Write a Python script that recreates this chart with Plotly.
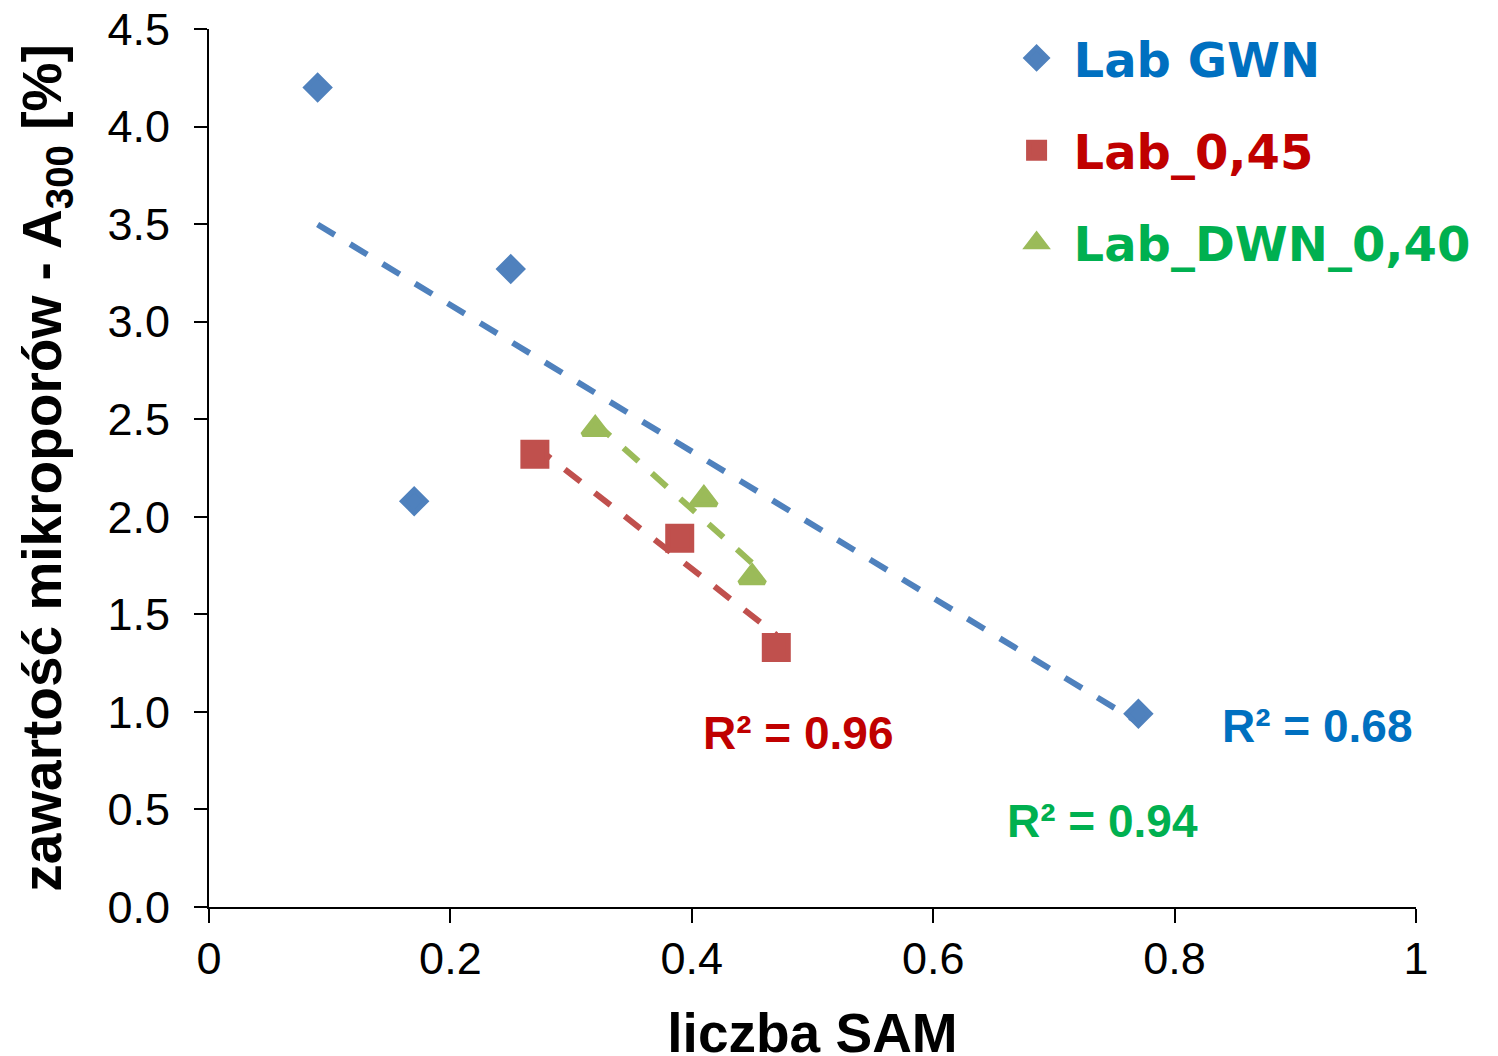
import numpy as np
import plotly.graph_objects as go

# ---- data ----
gwn_x = [0.09, 0.17, 0.25, 0.77]
gwn_y = [4.20, 2.08, 3.27, 0.99]
l45_x = [0.27, 0.39, 0.47]
l45_y = [2.32, 1.89, 1.33]
dwn_x = [0.32, 0.41, 0.45]
dwn_y = [2.45, 2.09, 1.69]

series_names = ["Lab GWN", "Lab_0,45", "Lab_DWN_0,40"]
r2_labels = ["R² = 0.68", "R² = 0.96", "R² = 0.94"]

marker_colors = ["#4F81BD", "#C0504D", "#9BBB59"]
text_colors = ["#0070C0", "#C00000", "#00B050"]
symbols = ["diamond", "square", "triangle-up"]
sizes = [18, 24, 22]
outline = 5

xs = [gwn_x, l45_x, dwn_x]
ys = [gwn_y, l45_y, dwn_y]

fig = go.Figure()

# trendlines (linear fit over data range)
for i in range(3):
    x = np.array(xs[i]); y = np.array(ys[i])
    k, b = np.polyfit(x, y, 1)
    lx = [x.min(), x.max()]
    fig.add_trace(go.Scatter(
        x=lx, y=[k * v + b for v in lx], mode="lines",
        line=dict(color=marker_colors[i], width=6, dash="20px,18px"),
        showlegend=False, hoverinfo="skip"))

for i in range(3):
    fig.add_trace(go.Scatter(
        x=xs[i], y=ys[i], mode="markers",
        name="<span style='color:%s'>%s</span>" % (text_colors[i], series_names[i]),
        legendgroup="g%d" % i,
        marker=dict(symbol=symbols[i], size=sizes[i], color=marker_colors[i],
                    line=dict(width=outline, color=marker_colors[i]))))

# R² annotations
r2_pos = [(0.918, 0.93), (0.488, 0.89), (0.740, 0.44)]
for i in range(3):
    fig.add_annotation(x=r2_pos[i][0], y=r2_pos[i][1], xref="x", yref="y",
                       text="<b>%s</b>" % r2_labels[i], showarrow=False,
                       font=dict(family="Liberation Sans, Arial", size=46,
                                 color=text_colors[i]))

fig.update_layout(
    width=1498, height=1056,
    margin=dict(l=201, r=90, t=21, b=157),
    paper_bgcolor="white", plot_bgcolor="white",
    font=dict(family="Liberation Sans, Arial", size=45, color="black"),
    legend=dict(x=0.655, y=1.01, xanchor="left", yanchor="top",
                font=dict(family="DejaVu Sans", size=48, weight="bold"),
                tracegroupgap=27, bgcolor="rgba(0,0,0,0)",
                itemsizing="trace", itemwidth=64),
    showlegend=True,
)

fig.update_xaxes(range=[0, 1], dtick=0.2, tick0=0, showgrid=False, zeroline=False,
                 automargin=False, ticklabeloverflow="allow",
                 showline=True, linecolor="black", linewidth=2,
                 ticks="outside", ticklen=14, tickwidth=2, tickcolor="black",
                 ticklabelstandoff=-3,
                 title=dict(text="<b>liczba SAM</b>", standoff=46,
                            font=dict(size=55)))
fig.update_yaxes(range=[0, 4.5], dtick=0.5, tick0=0, tickformat=".1f",
                 showgrid=False, zeroline=False, automargin=False,
                 ticklabeloverflow="allow",
                 showline=True, linecolor="black", linewidth=2,
                 ticks="outside", ticklen=13, tickwidth=2, tickcolor="black",
                 ticklabelstandoff=15,
                 title=dict(text="<b>zawartość mikroporów - A<sub>300</sub> [%]</b>",
                            standoff=28, font=dict(size=55)))

fig.write_html("out.html")
